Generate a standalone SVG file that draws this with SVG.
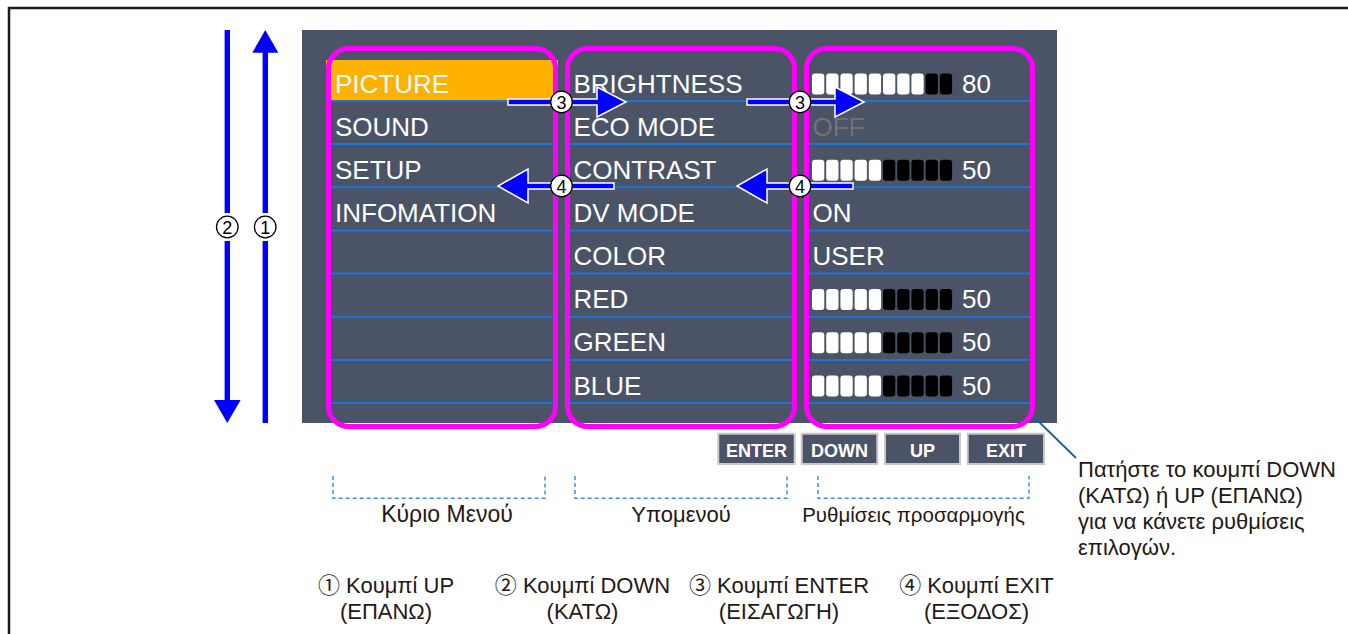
<svg xmlns="http://www.w3.org/2000/svg" width="1348" height="634" viewBox="0 0 1348 634">
<style>
.t{font-family:"Liberation Sans",Arial,sans-serif;fill:#fff;font-size:26px}
.off{fill:#727272}
.col{fill:none;stroke:#ff00ff;stroke-width:5}
.row{stroke:#1e74d6;stroke-width:2}
.w{fill:#fff}
.k{fill:#000}
.btn{fill:#4b5366;stroke:#c8c8c8;stroke-width:2}
.bt{font-family:"Liberation Sans",Arial,sans-serif;font-weight:bold;font-size:18px;fill:#fff;text-anchor:middle}
.g{font-family:"Liberation Sans","Noto Sans CJK JP",sans-serif;font-size:22px;fill:#231815}
.m{text-anchor:middle}
.br{fill:none;stroke:#3d8ef0;stroke-width:1.5;stroke-dasharray:4 3}
.arr{fill:#0000ff;stroke:#fff;stroke-width:1.5}
.blue{fill:#0000ff}
.num circle{fill:#fff;stroke:#000;stroke-width:1.3}
.num text{font-family:"Liberation Sans",Arial,sans-serif;font-size:18px;fill:#000;text-anchor:middle}
</style>
<defs>
<rect id="seg" width="12.3" height="21" rx="3"/>
<g id="bar50">
<use href="#seg" x="0" class="w"/><use href="#seg" x="14.2" class="w"/><use href="#seg" x="28.4" class="w"/><use href="#seg" x="42.6" class="w"/><use href="#seg" x="56.8" class="w"/>
<use href="#seg" x="71" class="k"/><use href="#seg" x="85.2" class="k"/><use href="#seg" x="99.4" class="k"/><use href="#seg" x="113.6" class="k"/><use href="#seg" x="127.8" class="k"/>
</g>
<g id="bar80">
<use href="#seg" x="0" class="w"/><use href="#seg" x="14.2" class="w"/><use href="#seg" x="28.4" class="w"/><use href="#seg" x="42.6" class="w"/><use href="#seg" x="56.8" class="w"/>
<use href="#seg" x="71" class="w"/><use href="#seg" x="85.2" class="w"/><use href="#seg" x="99.4" class="w"/><use href="#seg" x="113.6" class="k"/><use href="#seg" x="127.8" class="k"/>
</g>
</defs>

<path d="M9,634 V8 H1348" fill="none" stroke="#231815" stroke-width="2.5"/>

<g id="panel">
<rect x="302" y="30" width="755" height="393" fill="#4b5366"/>
<rect x="326" y="60" width="232" height="41" fill="#ffb100"/>
</g>

<g id="main-menu">
<g class="row">
<line x1="331" y1="101" x2="553" y2="101"/><line x1="331" y1="144.1" x2="553" y2="144.1"/><line x1="331" y1="187.3" x2="553" y2="187.3"/><line x1="331" y1="230.4" x2="553" y2="230.4"/><line x1="331" y1="273.6" x2="553" y2="273.6"/><line x1="331" y1="316.7" x2="553" y2="316.7"/><line x1="331" y1="359.9" x2="553" y2="359.9"/><line x1="331" y1="403" x2="553" y2="403"/>
</g>
<text class="t" x="335" y="92.5">PICTURE</text>
<text class="t" x="335" y="135.6">SOUND</text>
<text class="t" x="335" y="178.8">SETUP</text>
<text class="t" x="335" y="221.9">INFOMATION</text>
<rect class="col" x="328.5" y="48.5" width="227" height="378" rx="20"/>
</g>

<g id="sub-menu">
<g class="row">
<line x1="570" y1="101" x2="792" y2="101"/><line x1="570" y1="144.1" x2="792" y2="144.1"/><line x1="570" y1="187.3" x2="792" y2="187.3"/><line x1="570" y1="230.4" x2="792" y2="230.4"/><line x1="570" y1="273.6" x2="792" y2="273.6"/><line x1="570" y1="316.7" x2="792" y2="316.7"/><line x1="570" y1="359.9" x2="792" y2="359.9"/><line x1="570" y1="403" x2="792" y2="403"/>
</g>
<text class="t" x="573.5" y="92.5">BRIGHTNESS</text>
<text class="t" x="573.5" y="135.6">ECO MODE</text>
<text class="t" x="573.5" y="178.8">CONTRAST</text>
<text class="t" x="573.5" y="221.9">DV MODE</text>
<text class="t" x="573.5" y="265.1">COLOR</text>
<text class="t" x="573.5" y="308.2">RED</text>
<text class="t" x="573.5" y="351.4">GREEN</text>
<text class="t" x="573.5" y="394.5">BLUE</text>
<rect class="col" x="567.5" y="48.5" width="227" height="378" rx="20"/>
</g>

<g id="settings">
<g class="row">
<line x1="809" y1="101" x2="1030" y2="101"/><line x1="809" y1="144.1" x2="1030" y2="144.1"/><line x1="809" y1="187.3" x2="1030" y2="187.3"/><line x1="809" y1="230.4" x2="1030" y2="230.4"/><line x1="809" y1="273.6" x2="1030" y2="273.6"/><line x1="809" y1="316.7" x2="1030" y2="316.7"/><line x1="809" y1="359.9" x2="1030" y2="359.9"/><line x1="809" y1="403" x2="1030" y2="403"/>
</g>
<use href="#bar80" x="812" y="73.4"/>
<text class="t" x="962" y="92.5">80</text>
<text class="t off" x="812.5" y="135.6">OFF</text>
<use href="#bar50" x="812" y="159.7"/>
<text class="t" x="962" y="178.8">50</text>
<text class="t" x="812.5" y="221.9">ON</text>
<text class="t" x="812.5" y="265.1">USER</text>
<use href="#bar50" x="812" y="289.1"/>
<text class="t" x="962" y="308.2">50</text>
<use href="#bar50" x="812" y="332.3"/>
<text class="t" x="962" y="351.4">50</text>
<use href="#bar50" x="812" y="375.4"/>
<text class="t" x="962" y="394.5">50</text>
<rect class="col" x="806.5" y="48.5" width="226" height="378" rx="20"/>
</g>

<g id="buttons">
<g id="btn-enter"><rect class="btn" x="718.3" y="433.7" width="76.4" height="30.3"/><text class="bt" x="756.5" y="457">ENTER</text></g>
<g id="btn-down"><rect class="btn" x="801.7" y="433.7" width="75.6" height="30.3"/><text class="bt" x="839.5" y="457">DOWN</text></g>
<g id="btn-up"><rect class="btn" x="885" y="433.7" width="75" height="30.3"/><text class="bt" x="922.5" y="457">UP</text></g>
<g id="btn-exit"><rect class="btn" x="967.7" y="433.7" width="76.3" height="30.3"/><text class="bt" x="1006" y="457">EXIT</text></g>
</g>

<g id="brackets">
<path class="br" d="M333,476 V498.3 H545 V476"/>
<path class="br" d="M575,476 V498.3 H787 V476"/>
<path class="br" d="M818,476 V498.3 H1029 V476"/>
<text class="g m" x="447" y="521.5" style="font-size:23px">Κύριο Μενού</text>
<text class="g m" x="681" y="521.5">Υπομενού</text>
<text class="g m" x="913.5" y="521.5" style="font-size:20.5px">Ρυθμίσεις προσαρμογής</text>
</g>

<g id="callout">
<text class="g" x="1078" y="477">Πατήστε το κουμπί DOWN</text>
<text class="g" x="1078" y="503">(ΚΑΤΩ) ή UP (ΕΠΑΝΩ)</text>
<text class="g" x="1078" y="529">για να κάνετε ρυθμίσεις</text>
<text class="g" x="1078" y="555">επιλογών.</text>
</g>

<g id="legend">
<text class="g m" x="386" y="593">① Κουμπί UP</text>
<text class="g m" x="386" y="619">(ΕΠΑΝΩ)</text>
<text class="g m" x="582.5" y="593">② Κουμπί DOWN</text>
<text class="g m" x="582.5" y="619">(ΚΑΤΩ)</text>
<text class="g m" x="779" y="593">③ Κουμπί ENTER</text>
<text class="g m" x="779" y="619">(ΕΙΣΑΓΩΓΗ)</text>
<text class="g m" x="976.5" y="593">④ Κουμπί EXIT</text>
<text class="g m" x="976.5" y="619">(ΕΞΟΔΟΣ)</text>
</g>

<g id="connectors">
<line x1="1034" y1="417" x2="1076" y2="458" stroke="#1f5e99" stroke-width="1.8"/>
<g id="arrow-down">
<rect class="blue" x="224.6" y="30" width="5.4" height="183"/>
<rect class="blue" x="224.6" y="241" width="5.4" height="160"/>
<polygon class="blue" points="214,400 240.6,400 227.3,423"/>
</g>
<g id="arrow-up">
<polygon class="blue" points="252.3,52.7 278.3,52.7 265.3,30"/>
<rect class="blue" x="262.6" y="52" width="5.4" height="161"/>
<rect class="blue" x="262.6" y="241" width="5.4" height="182"/>
</g>
<polygon class="arr" points="508,99 597,99 597,87 626,102 597,117 597,105 508,105"/>
<polygon class="arr" points="747,99 835,99 835,87 864,102 835,117 835,105 747,105"/>
<polygon class="arr" points="614,183 528,183 528,169 498,186 528,203 528,189 614,189"/>
<polygon class="arr" points="853,183 767,183 767,169 737,186 767,203 767,189 853,189"/>
<g class="num">
<circle cx="227.3" cy="227" r="10.8"/><text x="227.3" y="233.5">2</text>
<circle cx="265.2" cy="227" r="10.8"/><text x="265.2" y="233.5">1</text>
<circle cx="561.5" cy="102" r="10.8"/><text x="561.5" y="108.5">3</text>
<circle cx="800" cy="102" r="10.8"/><text x="800" y="108.5">3</text>
<circle cx="561.5" cy="186" r="10.8"/><text x="561.5" y="192.5">4</text>
<circle cx="800" cy="186" r="10.8"/><text x="800" y="192.5">4</text>
</g>
</g>
</svg>
